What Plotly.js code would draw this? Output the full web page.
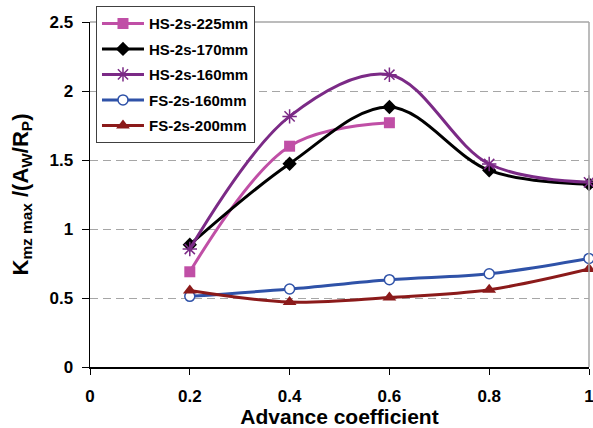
<!DOCTYPE html>
<html>
<head>
<meta charset="utf-8">
<script src="https://cdn.plot.ly/plotly-3.0.1.min.js"></script>
<style>html,body{margin:0;padding:0;background:#fff;}#chart{width:593px;height:428px;}</style>
</head>
<body>
<div id="chart"></div>
<script>
const advance = [0.2, 0.4, 0.6, 0.8, 1.0];
const hs225 = [0.69, 1.60, 1.77];
const hs170 = [0.886, 1.473, 1.884, 1.425, 1.325];
const hs160 = [0.855, 1.816, 2.118, 1.471, 1.338];
const fs160 = [0.512, 0.565, 0.633, 0.676, 0.787];
const fs200 = [0.555, 0.471, 0.504, 0.560, 0.710];
const seriesNames = ['HS-2s-225mm', 'HS-2s-170mm', 'HS-2s-160mm', 'FS-2s-160mm', 'FS-2s-200mm'];
const yTicks = [0, 0.5, 1, 1.5, 2, 2.5];
const xTicks = [0, 0.2, 0.4, 0.6, 0.8, 1];

function tr(name, x, y, color, symbol, size, mline, fill, group) {
  return {
    type: 'scatter', mode: 'lines+markers', name: name, x: x, y: y,
    legendgroup: group,
    line: {color: color, width: 3, shape: 'spline', smoothing: 1},
    marker: {symbol: symbol, size: size, color: fill, line: {color: color, width: mline}},
    cliponaxis: false
  };
}
const data = [
  tr(seriesNames[0], advance.slice(0, hs225.length), hs225, '#C04FA6', 'square', 11, 0, '#C04FA6', 'a'),
  tr(seriesNames[1], advance, hs170, '#000000', 'diamond', 11, 0, '#000000', 'b'),
  tr(seriesNames[2], advance, hs160, '#7B2A86', 'asterisk-open', 12, 1.5, '#7B2A86', 'c'),
  tr(seriesNames[3], advance, fs160, '#2F52A8', 'circle', 10, 1.5, '#FFFFFF', 'd'),
  tr(seriesNames[4], advance, fs200, '#8B1A1A', 'triangle-up', 12, 0, '#8B1A1A', 'e')
];
const fontFam = 'Arial, "Liberation Sans", sans-serif';
const layout = {
  width: 593, height: 428,
  margin: {l: 90, r: 4, t: 22, b: 61},
  paper_bgcolor: '#ffffff', plot_bgcolor: '#ffffff',
  font: {family: fontFam, color: '#000000'},
  showlegend: true,
  legend: {
    x: 0.012, y: 1.046, xanchor: 'left', yanchor: 'top',
    bgcolor: '#ffffff', bordercolor: '#404040', borderwidth: 1,
    font: {family: fontFam, size: 15, color: '#000000', weight: 'bold'},
    traceorder: 'grouped', tracegroupgap: 3, itemwidth: 42
  },
  xaxis: {
    range: [0, 1], tickvals: xTicks, ticktext: xTicks.map(String),
    showgrid: false, zeroline: false,
    showline: true, linecolor: '#000000', linewidth: 1.5,
    ticks: 'outside', ticklen: 6, tickcolor: '#000000', tickwidth: 1,
    tickfont: {family: fontFam, size: 17, weight: 'bold'},
    ticklabelstandoff: 7, ticklabeloverflow: 'allow',
    title: {text: 'Advance coefficient', font: {family: fontFam, size: 21, weight: 'bold'}, standoff: 4}
  },
  yaxis: {
    range: [0, 2.5], tickvals: yTicks, ticktext: yTicks.map(String),
    showgrid: true, gridcolor: '#A6A6A6', griddash: '8px,5px', gridwidth: 1,
    zeroline: false,
    showline: true, linecolor: '#000000', linewidth: 1.5,
    ticks: 'outside', ticklen: 7, tickcolor: '#000000', tickwidth: 1,
    tickfont: {family: fontFam, size: 17, weight: 'bold'},
    ticklabelstandoff: 5,
    title: {text: 'K<sub>mz max</sub> /(A<sub>W</sub>/R<sub>P</sub>)', font: {family: fontFam, size: 22, weight: 'bold'}, standoff: 15}
  },
  shapes: [
    {type: 'line', xref: 'paper', yref: 'paper', x0: 0, x1: 1, y0: 1, y1: 1, line: {color: '#A6A6A6', width: 1.5}},
    {type: 'line', xref: 'paper', yref: 'paper', x0: 1, x1: 1, y0: 0, y1: 1, line: {color: '#A6A6A6', width: 1.5}}
  ]
};
Plotly.newPlot('chart', data, layout, {displayModeBar: false, staticPlot: true});
</script>
</body>
</html>
